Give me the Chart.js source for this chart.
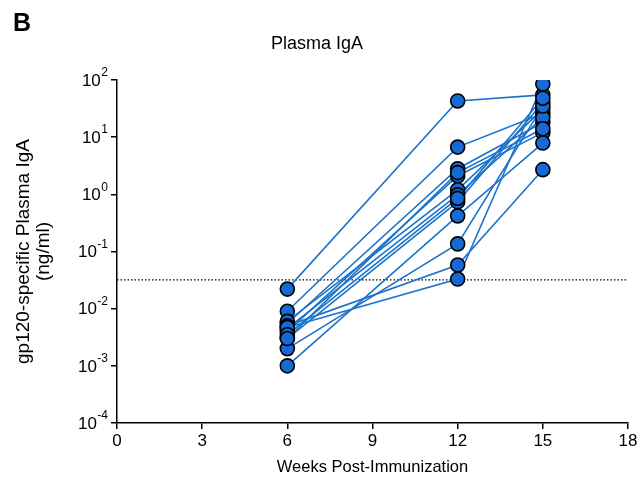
<!DOCTYPE html>
<html>
<head>
<meta charset="utf-8">
<script src="https://cdn.jsdelivr.net/npm/chart.js@4.4.1/dist/chart.umd.min.js"></script>
<style>
  body { margin: 0; background: #fff; }
  #wrap { width: 643px; height: 479px; }
</style>
</head>
<body>
<div id="wrap"><canvas id="igaChart" width="643" height="479"></canvas></div>
<script>
// weeks sampled
var weeks = [6, 12, 15];
// one entry per animal, same order in each array
var week6  = [0.022, 0.009, 0.0055, 0.004, 0.006, 0.0045, 0.003, 0.001, 0.002, 0.005, 0.0047, 0.0035, 0.003];
var week12 = [43, 6.7, 2.8, 2.1, 1.2, 0.98, 0.74, 0.42, 0.136, 0.058, 0.033, 0.85, 2.4];
var week15 = [55, 26, 18, 12, 31, 22, 40, 7.9, 35, 2.7, 85, 48, 14];
var xTicks = [0, 3, 6, 9, 12, 15, 18];
var yExponents = [-4, -3, -2, -1, 0, 1, 2];
var cutoff = 0.032; // detection limit (dotted line)

var lineColor = '#1b73cc';
var dotColor = '#1769d4';
var fontFam = "'Liberation Sans', Arial, sans-serif";

var series = [week6, week12, week15];
var datasets = [];

// connecting lines (drawn first)
for (var i = 0; i < week6.length; i++) {
    datasets.push({
        data: weeks.map(function(w, j) { return { x: w, y: series[j][i] }; }),
        showLine: true,
        borderColor: lineColor,
        borderWidth: 1.6,
        pointRadius: 0,
        order: 1
    });
}

// all dots on top
var dots = [];
weeks.forEach(function(w, j) {
    series[j].forEach(function(v) { dots.push({ x: w, y: v }); });
});
datasets.push({
    data: dots,
    showLine: false,
    pointRadius: 7,
    pointBackgroundColor: dotColor,
    pointBorderColor: '#000',
    pointBorderWidth: 1.6,
    order: 0
});

// y labels as 10 with raised exponent, dotted cutoff, panel letter
var extras = {
    id: 'extras',
    beforeDatasetsDraw: function(chart) {
        var ctx = chart.ctx, area = chart.chartArea;
        var y = chart.scales.y.getPixelForValue(cutoff);
        ctx.save();
        ctx.strokeStyle = '#000';
        ctx.lineWidth = 1.2;
        ctx.setLineDash([1.5, 2]);
        ctx.beginPath();
        ctx.moveTo(area.left, y);
        ctx.lineTo(area.right, y);
        ctx.stroke();
        ctx.restore();
    },
    afterDraw: function(chart) {
        var ctx = chart.ctx, ys = chart.scales.y;
        ctx.save();
        ctx.fillStyle = '#000';
        ctx.textBaseline = 'middle';
        yExponents.forEach(function(e) {
            var py = ys.getPixelForValue(Math.pow(10, e));
            var right = ys.right - 9;
            ctx.font = '12px ' + fontFam;
            var expText = String(e);
            var ew = ctx.measureText(expText).width;
            ctx.textAlign = 'left';
            ctx.fillText(expText, right - ew, py - 7);
            ctx.font = '17px ' + fontFam;
            ctx.textAlign = 'right';
            ctx.fillText('10', right - ew - 0.5, py + 1);
        });
        ctx.font = 'bold 25px ' + fontFam;
        ctx.textAlign = 'left';
        ctx.textBaseline = 'alphabetic';
        ctx.fillText('B', 13, 31);
        ctx.restore();
    }
};

new Chart(document.getElementById('igaChart').getContext('2d'), {
    type: 'scatter',
    data: { datasets: datasets },
    options: {
        responsive: false,
        animation: false,
        devicePixelRatio: 1,
        layout: { padding: { left: 6, right: 15, top: 0, bottom: 2 } },
        plugins: {
            legend: { display: false },
            tooltip: { enabled: false },
            title: {
                display: true,
                text: 'Plasma IgA',
                color: '#000',
                font: { family: fontFam, size: 18, weight: 'normal' },
                padding: { top: 33, bottom: 25.4 }
            }
        },
        scales: {
            x: {
                type: 'linear',
                min: 0,
                max: 18,
                afterBuildTicks: function(s) { s.ticks = xTicks.map(function(v) { return { value: v }; }); },
                ticks: { color: '#000', font: { family: fontFam, size: 17 }, padding: 2, maxRotation: 0 },
                grid: { drawOnChartArea: false, drawTicks: true, tickLength: 6, color: '#000', lineWidth: 1.5 },
                border: { color: '#000', width: 1.5 },
                title: {
                    display: true,
                    text: 'Weeks Post-Immunization',
                    color: '#000',
                    font: { family: fontFam, size: 16.5 },
                    padding: { top: 2, bottom: 0 }
                },
                afterFit: function(s) { s.height = 54; }
            },
            y: {
                type: 'logarithmic',
                min: 1e-4,
                max: 1e2,
                afterBuildTicks: function(s) {
                    s.ticks = yExponents.map(function(e) { return { value: Math.pow(10, e) }; });
                },
                ticks: { callback: function() { return ''; } },
                grid: { drawOnChartArea: false, drawTicks: true, tickLength: 6, color: '#000', lineWidth: 1.5 },
                border: { color: '#000', width: 1.5 },
                title: {
                    display: true,
                    text: ['gp120-specific Plasma IgA', '(ng/ml)'],
                    color: '#000',
                    font: { family: fontFam, size: 19, lineHeight: 1.05 },
                    padding: { top: 8, bottom: 0 }
                },
                afterFit: function(s) { s.width = 111; }
            }
        }
    },
    plugins: [extras]
});
</script>
</body>
</html>
